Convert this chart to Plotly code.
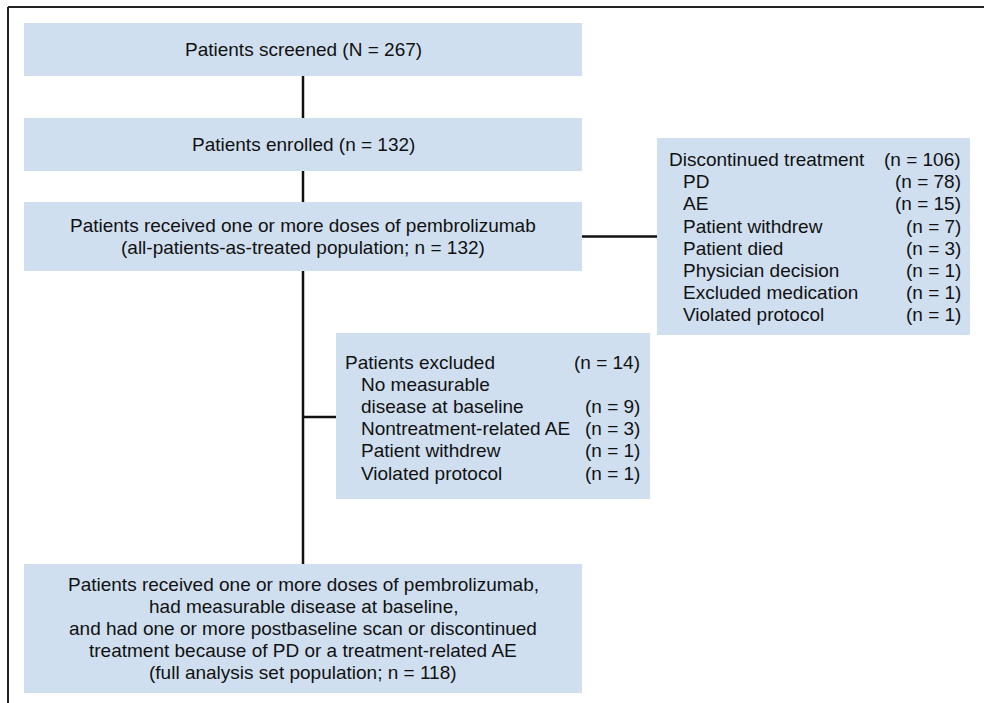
import plotly.graph_objects as go

# ---- data ----
screened_n = 267
enrolled_n = 132
treated_n = 132
fas_n = 118

discontinued_total = 106
discontinued_reasons = ["PD", "AE", "Patient withdrew", "Patient died",
                        "Physician decision", "Excluded medication", "Violated protocol"]
discontinued_counts = [78, 15, 7, 3, 1, 1, 1]

excluded_total = 14
excluded_reasons = ["No measurable", "disease at baseline", "Nontreatment-related AE",
                    "Patient withdrew", "Violated protocol"]
excluded_counts = [None, 9, 3, 1, 1]

box1_lines = [f"Patients screened (N = {screened_n})"]
box2_lines = [f"Patients enrolled (n = {enrolled_n})"]
box3_lines = ["Patients received one or more doses of pembrolizumab",
              f"(all-patients-as-treated population; n = {treated_n})"]
box4_lines = ["Patients received one or more doses of pembrolizumab,",
              "had measurable disease at baseline,",
              "and had one or more postbaseline scan or discontinued",
              "treatment because of PD or a treatment-related AE",
              f"(full analysis set population; n = {fas_n})"]

# ---- style ----
FILL = "#d0dff0"
FONT = dict(family="Liberation Sans, Arial, sans-serif", size=19, color="#111111")
LINE = dict(color="#111111", width=2.5)
LH = 22.2

fig = go.Figure()
shapes = []
annos = []

def rect(x0, y0, x1, y1):
    shapes.append(dict(type="rect", x0=x0, y0=y0, x1=x1, y1=y1, xref="x", yref="y",
                       fillcolor=FILL, line=dict(width=0), layer="below"))

def seg(x0, y0, x1, y1, line=LINE):
    shapes.append(dict(type="line", x0=x0, y0=y0, x1=x1, y1=y1, xref="x", yref="y", line=line))

def txt(x, y, s, anchor="center"):
    annos.append(dict(x=x, y=y, text=s, xref="x", yref="y", showarrow=False,
                      xanchor=anchor, yanchor="middle", font=FONT))

def centered(lines, cx, cy):
    n = len(lines)
    for i, s in enumerate(lines):
        txt(cx, cy + (i - (n - 1) / 2) * LH, s)

# frame
seg(8, 7, 984, 7, dict(color="#222222", width=2))
seg(8, 7, 8, 703, dict(color="#222222", width=2))

CX = 303
# main boxes
rect(24, 23, 582, 76); centered(box1_lines, CX, 49.5)
rect(24, 118, 582, 171); centered(box2_lines, CX, 144.5)
rect(24, 202, 582, 271); centered(box3_lines, CX, 236.5)
rect(24, 564, 582, 693); centered(box4_lines, CX, 628.5)

# connectors
seg(CX, 76, CX, 118)
seg(CX, 171, CX, 202)
seg(CX, 271, CX, 564)
seg(582, 236.5, 657, 236.5)
seg(CX, 417, 336, 417)

# discontinued box
rect(657, 138, 970, 335)
y0 = 159.5
txt(667, y0, "Discontinued treatment", "left")
txt(963, y0, f"(n = {discontinued_total})", "right")
for i, (r, c) in enumerate(zip(discontinued_reasons, discontinued_counts)):
    y = y0 + (i + 1) * LH
    txt(681, y, r, "left")
    txt(963, y, f"(n = {c})", "right")

# excluded box
rect(336, 333, 650, 499)
y0 = 362
txt(343, y0, "Patients excluded", "left")
txt(642, y0, f"(n = {excluded_total})", "right")
for i, (r, c) in enumerate(zip(excluded_reasons, excluded_counts)):
    y = y0 + (i + 1) * LH
    txt(359, y, r, "left")
    if c is not None:
        txt(642, y, f"(n = {c})", "right")

fig.update_layout(
    width=984, height=703, margin=dict(l=0, r=0, t=0, b=0),
    paper_bgcolor="white", plot_bgcolor="white", showlegend=False,
    xaxis=dict(range=[0, 984], visible=False, fixedrange=True),
    yaxis=dict(range=[703, 0], visible=False, fixedrange=True),
    shapes=shapes, annotations=annos,
)
fig.write_html("out.html", config={"displayModeBar": False},
               post_script="document.body.style.margin='0';document.body.style.overflow='hidden';")
